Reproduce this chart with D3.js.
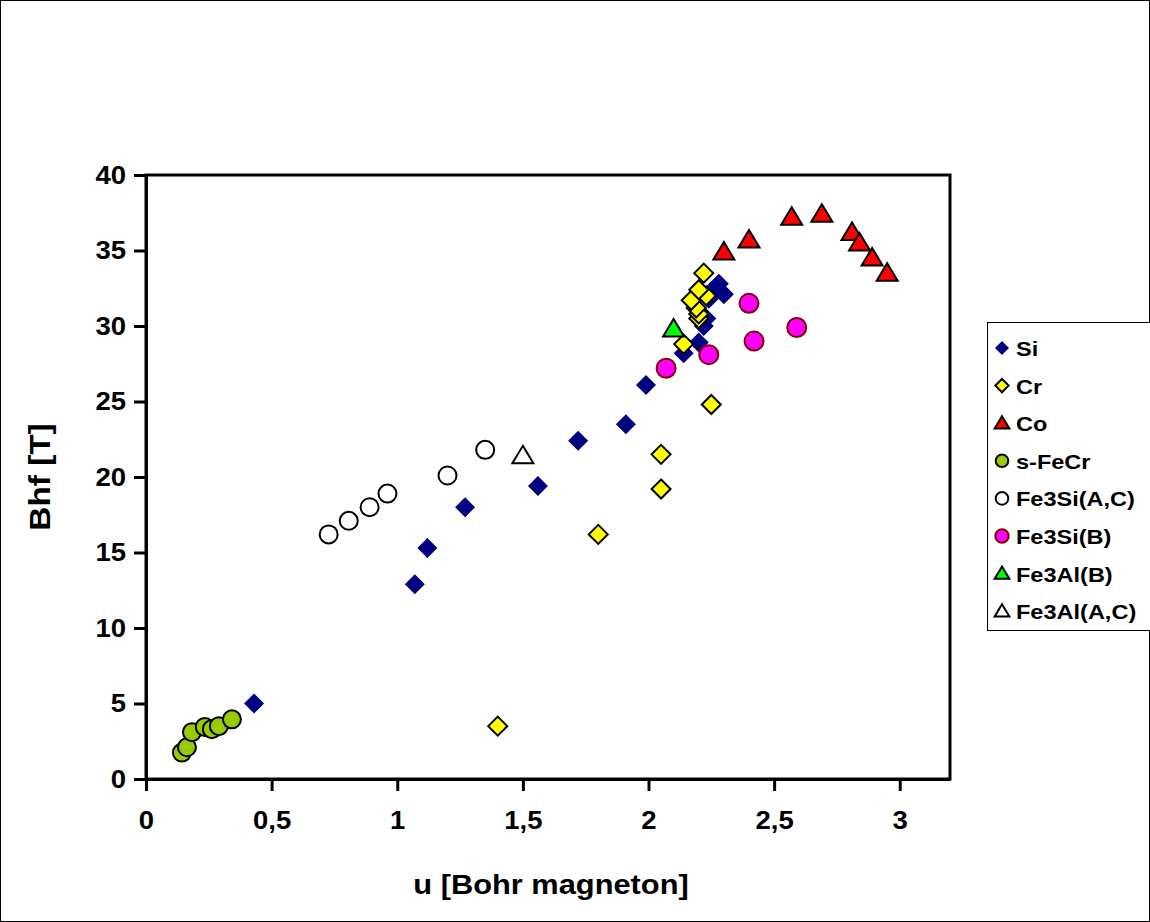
<!DOCTYPE html>
<html><head><meta charset="utf-8">
<script src="https://d3js.org/d3.v7.min.js"></script>
<style>body{margin:0;background:#fff}svg{display:block}text{font-family:"Liberation Sans",Arial,sans-serif;font-weight:bold}</style>
</head><body>
<script>
const xTicks=[0,0.5,1,1.5,2,2.5,3];
const yTicks=[0,5,10,15,20,25,30,35,40];
const siX=[0.43,1.07,1.12,1.27,1.56,1.72,1.91,1.99,2.14,2.2,2.22,2.23,2.24,2.25,2.27,2.28,2.3];
const siY=[5.0,12.9,15.3,18.0,19.4,22.4,23.5,26.1,28.2,28.9,30.0,30.5,31.8,32.3,32.5,32.8,32.1];
const crX=[1.4,1.8,2.05,2.05,2.14,2.25,2.2,2.2,2.19,2.17,2.23,2.2,2.22];
const crY=[3.5,16.2,19.2,21.5,28.8,24.8,30.5,30.8,31.2,31.7,32.0,32.4,33.5];
const coX=[2.3,2.4,2.57,2.69,2.81,2.84,2.89,2.95];
const coY=[34.9,35.7,37.2,37.4,36.2,35.5,34.5,33.5];
const feCrX=[0.143,0.163,0.183,0.234,0.262,0.29,0.342];
const feCrY=[1.75,2.1,3.1,3.45,3.3,3.5,3.95];
const fe3SiACX=[0.727,0.807,0.89,0.961,1.2,1.35];
const fe3SiACY=[16.2,17.1,18.0,18.9,20.1,21.8];
const fe3SiBX=[2.07,2.24,2.4,2.42,2.59];
const fe3SiBY=[27.2,28.1,31.5,29.0,29.9];
const fe3AlBX=[2.1];
const fe3AlBY=[29.8];
const fe3AlACX=[1.5];
const fe3AlACY=[21.4];

const W=1150,H=922;
const svg=d3.select("body").append("svg").attr("width",W).attr("height",H);
svg.append("rect").attr("x",0.5).attr("y",0.5).attr("width",W-1).attr("height",H-1).attr("fill","#fff").attr("stroke","#000").attr("stroke-width",1);

function stretch(sel,k){sel.each(function(){const n=this.getComputedTextLength();d3.select(this).attr("textLength",n*k).attr("lengthAdjust","spacingAndGlyphs");});}

const L=146,R=950,T=175,B=779;
const x=d3.scaleLinear().domain([0,3.2]).range([L,R]);
const y=d3.scaleLinear().domain([0,40]).range([B,T]);

svg.append("rect").attr("x",L).attr("y",T).attr("width",R-L).attr("height",B-T).attr("fill","#fff").attr("stroke","#000").attr("stroke-width",3);

const xa=svg.append("g").attr("transform",`translate(0,${B})`).call(d3.axisBottom(x).tickValues(xTicks).tickSize(12).tickSizeOuter(0).tickPadding(20).tickFormat(d=>String(d).replace(".",",")));
const ya=svg.append("g").attr("transform",`translate(${L},0)`).call(d3.axisLeft(y).tickValues(yTicks).tickSize(12).tickSizeOuter(0).tickPadding(8));
[xa,ya].forEach(a=>{a.select(".domain").attr("stroke","#000").attr("stroke-width",3);
 a.selectAll(".tick line").attr("stroke","#000").attr("stroke-width",3);
 a.selectAll(".tick text").attr("fill","#000").style("font-size","25px").style("font-weight","bold").style("font-family","'Liberation Sans',Arial,sans-serif").call(stretch,1.1);});

svg.append("text").attr("x",(L+R)/2+3).attr("y",894).attr("text-anchor","middle").style("font-size","28px").text("u [Bohr magneton]").call(stretch,1.1);
svg.append("text").attr("transform",`translate(50,${(T+B)/2}) rotate(-90)`).attr("text-anchor","middle").style("font-size","29px").text("Bhf [T]").call(stretch,1.15);

const sym={
 diamond:(s)=>`M0,${-s}L${s},0L0,${s}L${-s},0Z`,
 triangle:(s)=>`M0,${-s}L${s*1.05},${s*0.75}L${-s*1.05},${s*0.75}Z`
};
const series=[
 {name:"Si",xs:siX,ys:siY,shape:"diamond",fill:"#000080",stroke:"none",sw:0,size:10},
 {name:"Cr",xs:crX,ys:crY,shape:"diamond",fill:"#ffff00",stroke:"#000",sw:2,size:9.5},
 {name:"Co",xs:coX,ys:coY,shape:"triangle",fill:"#ff0000",stroke:"#000",sw:2,size:10},
 {name:"s-FeCr",xs:feCrX,ys:feCrY,shape:"circle",fill:"#99cc00",stroke:"#000",sw:2,size:9},
 {name:"Fe3Si(A,C)",xs:fe3SiACX,ys:fe3SiACY,shape:"circle",fill:"#fff",stroke:"#000",sw:2,size:9},
 {name:"Fe3Si(B)",xs:fe3SiBX,ys:fe3SiBY,shape:"circle",fill:"#ff00ff",stroke:"#800000",sw:2,size:9.5},
 {name:"Fe3Al(B)",xs:fe3AlBX,ys:fe3AlBY,shape:"triangle",fill:"#00ff00",stroke:"#000",sw:2,size:10},
 {name:"Fe3Al(A,C)",xs:fe3AlACX,ys:fe3AlACY,shape:"triangle",fill:"#fff",stroke:"#000",sw:2,size:10}
];
function drawMarker(g,s,px,py,scale){
 let el;
 if(s.shape==="circle") el=g.append("circle").attr("cx",px).attr("cy",py).attr("r",s.size*scale);
 else el=g.append("path").attr("d",sym[s.shape](s.size*scale)).attr("transform",`translate(${px},${py})`);
 el.attr("fill",s.fill).attr("stroke",s.stroke).attr("stroke-width",s.sw).attr("stroke-linejoin","miter");
}
const pg=svg.append("g");
series.forEach(s=>{s.xs.forEach((v,i)=>drawMarker(pg,s,x(v),y(s.ys[i]),1));});

const lg=svg.append("g");
lg.append("rect").attr("x",987.5).attr("y",322.5).attr("width",170).attr("height",308).attr("fill","#fff").attr("stroke","#000").attr("stroke-width",1);
series.forEach((s,i)=>{
 const cy=348+i*37.6;
 drawMarker(lg,s,1002,cy,0.7);
 lg.append("text").attr("x",1016).attr("y",cy+8).style("font-size","21px").text(s.name).call(stretch,1.12);
});
</script>
</body></html>
